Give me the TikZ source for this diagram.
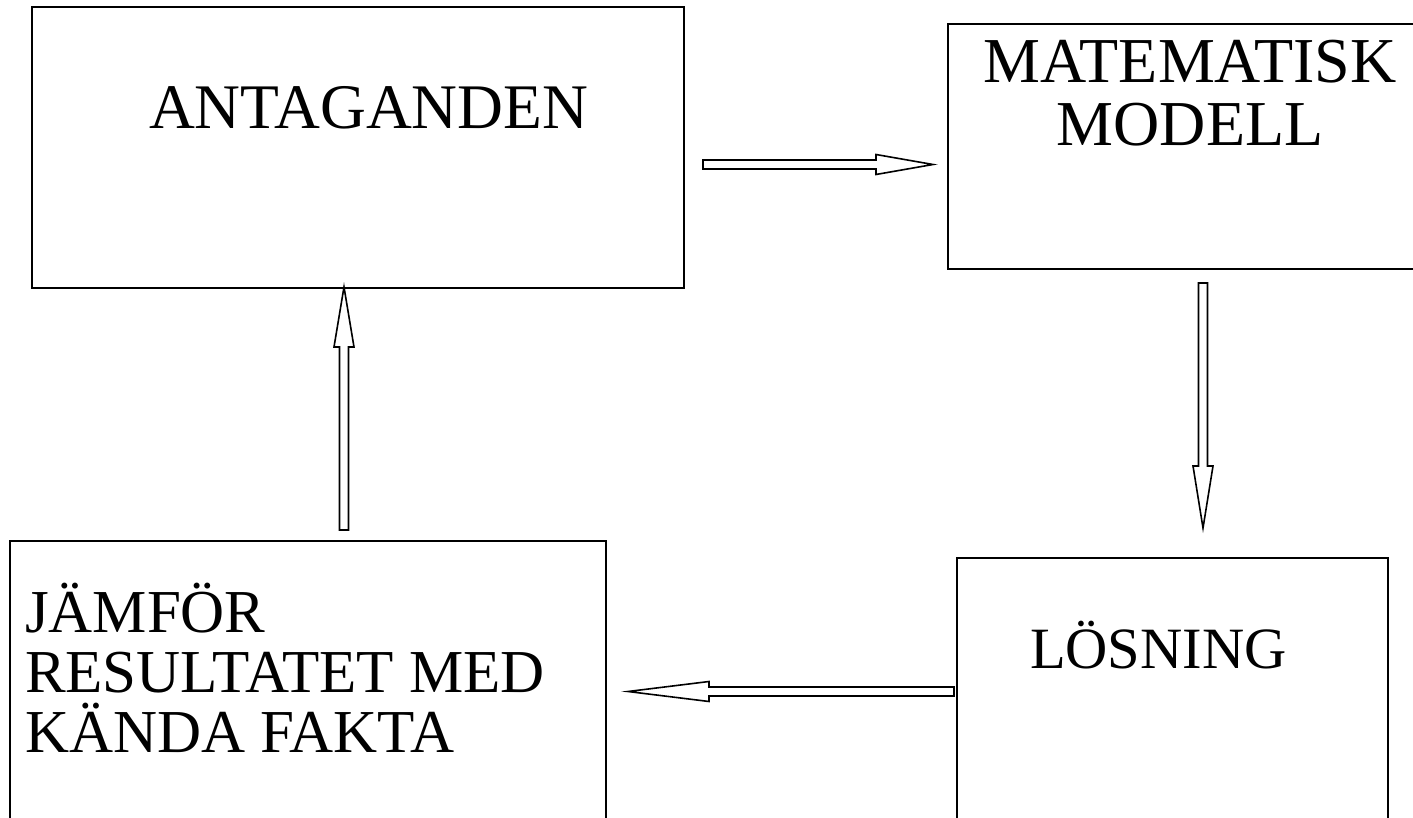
\documentclass[tikz,border=0pt]{standalone}
\usepackage{fontspec}
\setmainfont{Liberation Serif}
\usetikzlibrary{calc}
\newcommand\HollowArr[3]{%
  \coordinate (hb) at ($(#2)!#3pt!(#1)$);
  \draw[arrowline] ($(#1)!4.5pt!90:(#2)$) -- ($(hb)!4.5pt!-90:(#1)$) -- ($(hb)!10pt!-90:(#1)$) -- (#2) -- ($(hb)!10pt!90:(#1)$) -- ($(hb)!4.5pt!90:(#1)$) -- ($(#1)!4.5pt!-90:(#2)$) -- cycle;}
\tikzset{
  box/.style={draw, line width=1.6pt, rectangle, inner sep=0pt, outer sep=0pt, anchor=north west},
  lbl/.style={inner sep=0pt, outer sep=0pt},
  arrowline/.style={draw, line width=1.6pt, line join=miter},
}
\begin{document}
\begin{tikzpicture}[x=1pt, y=-1pt]
\clip (0,0) rectangle (1413,818);
\fill[white] (0,0) rectangle (1413,818);
% boxes
\node[box, minimum width=652, minimum height=281] (ant) at (32,7) {};
\node[box, minimum width=480, minimum height=245] (mat) at (948,24) {};
\node[box, minimum width=431, minimum height=300] (los) at (957,558) {};
\node[box, minimum width=596, minimum height=300] (jam) at (10,541) {};
% texts
\node[lbl, anchor=base west, font=\fontsize{63.5}{63}\selectfont] (antT) at (149,129) {ANTAGANDEN};
\node[lbl, anchor=base, align=center, font=\fontsize{64}{63}\selectfont] (matT) at (1190,146) {MATEMATISK\\MODELL};
\node[lbl, anchor=base west, font=\fontsize{58.5}{60}\selectfont] (losT) at (1030,668) {LÖSNING};
\node[lbl, anchor=base west, align=left, font=\fontsize{61}{60}\selectfont] (jamT) at (25,752) {JÄMFÖR\\RESULTATET MED\\KÄNDA FAKTA};
% arrow end points
\coordinate (r1) at (703,164.5);
\coordinate (r2) at (933,164.5);
\coordinate (d1) at (1203,283);
\coordinate (d2) at (1203,528);
\coordinate (u1) at (344,530);
\coordinate (u2) at (344,287);
\coordinate (l1) at (954,691.5);
\coordinate (l2) at (628,691.5);
\HollowArr{r1}{r2}{57}
\HollowArr{d1}{d2}{62}
\HollowArr{u1}{u2}{60}
\HollowArr{l1}{l2}{81}
\end{tikzpicture}
\end{document}
